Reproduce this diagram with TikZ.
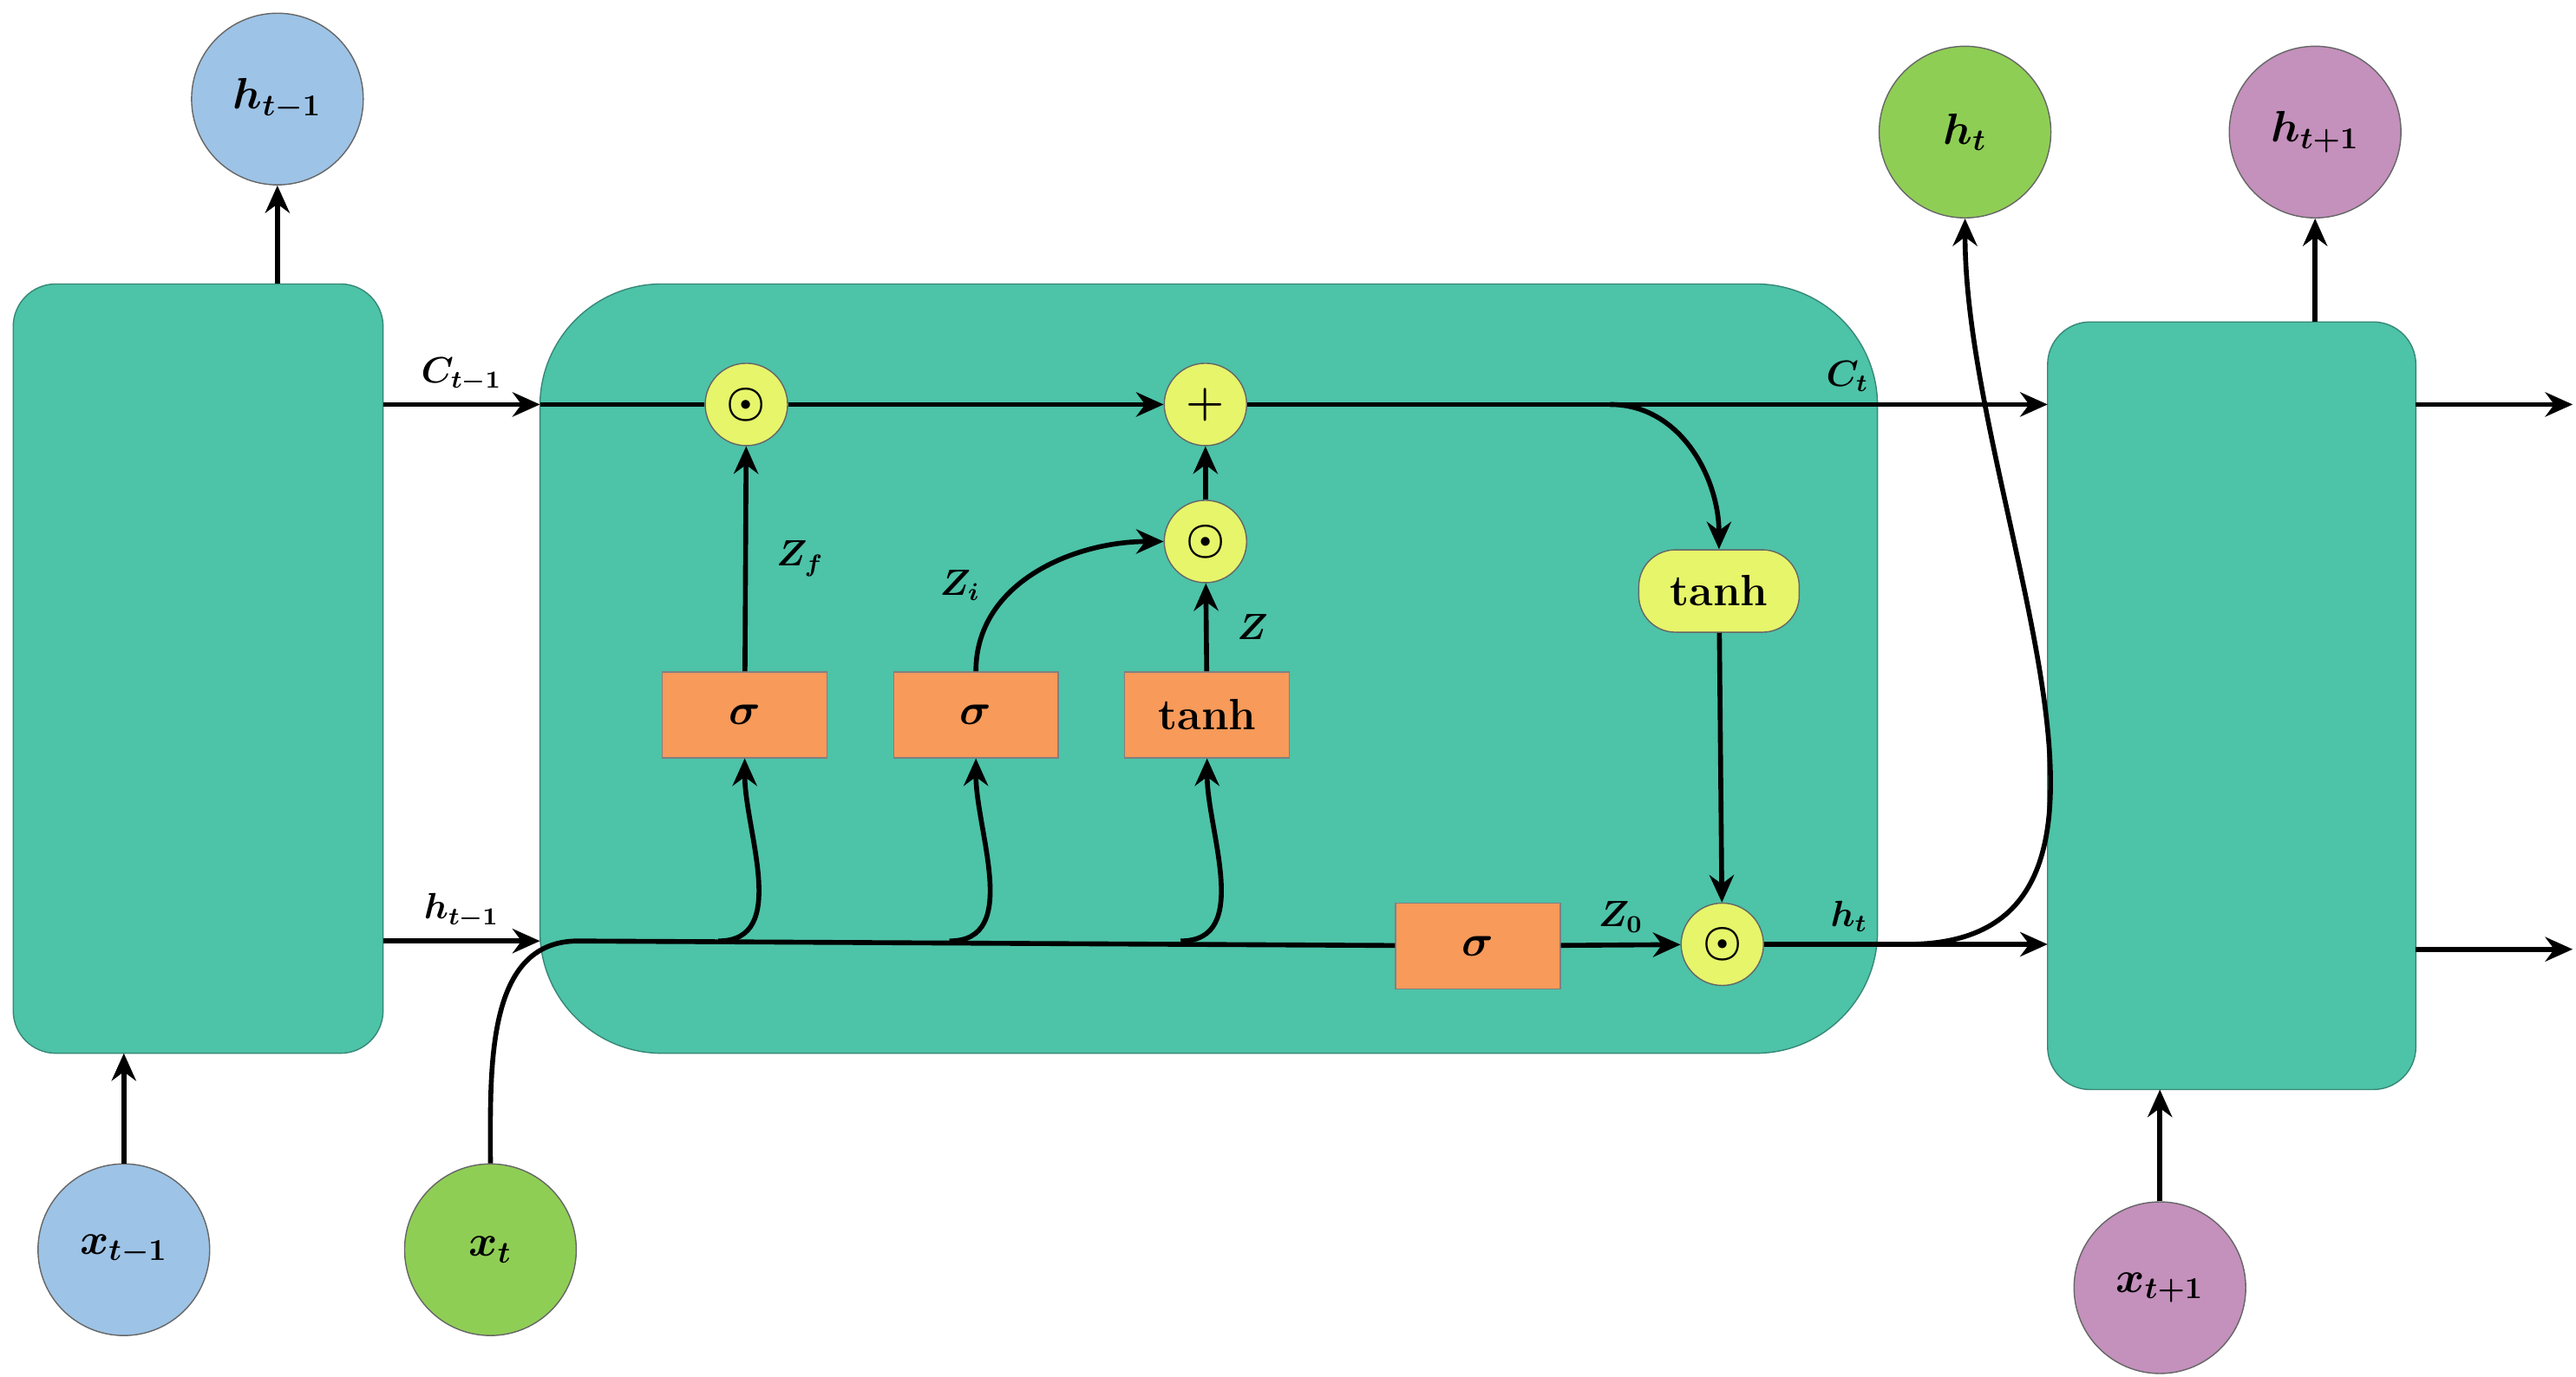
\documentclass[tikz,border=0pt]{standalone}
\usepackage{amsmath}
\usepackage{bm}
\usetikzlibrary{arrows.meta,positioning}
\definecolor{cellteal}{HTML}{4DC3A8}
\definecolor{circblue}{HTML}{9DC3E6}
\definecolor{circgreen}{HTML}{8FCE55}
\definecolor{circpurple}{HTML}{C490BC}
\definecolor{gateorange}{HTML}{F79A5A}
\definecolor{opyellow}{HTML}{E6F56A}
\begin{document}
\begin{tikzpicture}[
  x=0.01904cm, y=-0.01904cm,
  >={Stealth[length=9pt,width=8pt]},
  cell/.style={draw=cellteal!70!black, fill=cellteal, rounded corners=14pt},
  state/.style={circle, draw=black!60, minimum size=1.98cm, inner sep=0pt, font=\Large},
  gate/.style={draw=black!50, fill=gateorange, minimum width=1.9cm, minimum height=0.99cm, inner sep=0pt, font=\Large\bfseries},
  op/.style={circle, draw=black!60, fill=opyellow, minimum size=0.95cm, inner sep=0pt, font=\Large},
  flow/.style={->, line width=1.6pt},
  lbl/.style={font=\large},
]
\useasboundingbox (0,0) rectangle (1560,834);

% cells
\draw[cell] (8,172) rectangle (232,638);
\draw[cell, rounded corners=40pt] (327,172) rectangle (1137,638);
\draw[cell] (1240,195) rectangle (1463,660);
\coordinate (lefttop) at (168,172);
\coordinate (leftbot) at (75,638);
\coordinate (righttop) at (1402,195);
\coordinate (rightbot) at (1308,660);

% states
\node[state, fill=circblue] (hprev) at (168,60) {$\bm{h_{t-1}}$};
\node[state, fill=circblue] (xprev) at (75,757) {$\bm{x_{t-1}}$};
\node[state, fill=circgreen] (xcur) at (297,757) {$\bm{x_t}$};
\node[state, fill=circgreen] (hcur) at (1190,80) {$\bm{h_t}$};
\node[state, fill=circpurple] (hnext) at (1402,80) {$\bm{h_{t+1}}$};
\node[state, fill=circpurple] (xnext) at (1308,780) {$\bm{x_{t+1}}$};

% gates and operators
\node[gate] (sigf) at (451,433) {$\bm{\sigma}$};
\node[gate] (sigi) at (591,433) {$\bm{\sigma}$};
\node[gate] (tanhz) at (731,433) {tanh};
\node[gate] (sigo) at (895,573) {$\bm{\sigma}$};
\node[op] (mulf) at (452,245) {$\bm{\odot}$};
\node[op] (add) at (730,245) {$\bm{+}$};
\node[op] (muli) at (730,328) {$\bm{\odot}$};
\node[op] (mulo) at (1043,572) {$\bm{\odot}$};
\node[draw=black!60, fill=opyellow, rounded corners=12pt, minimum width=1.85cm, minimum height=0.95cm, font=\Large\bfseries] (tanhc) at (1041,358) {tanh};

% coordinates on the lines
\coordinate (cin) at (232,245);
\coordinate (cleft) at (327,245);
\coordinate (hin) at (232,570);
\coordinate (hleft) at (327,570);
\coordinate (cright) at (1240,245);
\coordinate (hright) at (1240,572);
\coordinate (csplit) at (975,245);
\coordinate (hsplit) at (1155,572);
\coordinate (xjoin) at (350,570);
\coordinate (bf) at (435,570);
\coordinate (bi) at (575,570);
\coordinate (bz) at (715,570);
\coordinate (cout) at (1558,245);
\coordinate (hout) at (1558,575);

% left cell
\draw[flow] (lefttop) -- (hprev);
\draw[flow] (xprev) -- (leftbot);
\draw[flow] (cin) -- (cleft) node[lbl, midway, above] {$\bm{C_{t-1}}$};
\draw[flow] (hin) -- (hleft) node[lbl, midway, above] {$\bm{h_{t-1}}$};

% cell state
\draw[line width=1.6pt] (cleft) -- (mulf);
\draw[flow] (mulf) -- (add);
\draw[flow] (add) -- (cright) node[lbl, pos=0.75, above] {$\bm{C_t}$};
\draw[flow] (csplit) to[out=0, in=90] (tanhc);
\draw[flow] (tanhc) -- (mulo);

% hidden / input path
\draw[line width=1.6pt] (xcur.north) to[out=90, in=180] (xjoin) -- (sigo);
\draw[flow] (bf) to[out=0, in=-90] (sigf);
\draw[flow] (bi) to[out=0, in=-90] (sigi);
\draw[flow] (bz) to[out=0, in=-90] (tanhz);

% gates
\draw[flow] (sigf) -- (mulf) node[lbl, midway, right=6pt] {$\bm{Z_f}$};
\draw[flow] (sigi) to[out=90, in=180] node[lbl, pos=0.25, above left] {$\bm{Z_i}$} (muli);
\draw[flow] (tanhz) -- (muli) node[lbl, midway, right=6pt] {$\bm{Z}$};
\draw[flow] (muli) -- (add);
\draw[flow] (sigo) -- (mulo) node[lbl, midway, above] {$\bm{Z_0}$};
\draw[flow] (mulo) -- (hright) node[lbl, pos=0.3, above] {$\bm{h_t}$};
\draw[flow] (hsplit) to[out=0, in=-90] (hcur);

% right cell
\draw[flow] (righttop) -- (hnext);
\draw[flow] (xnext) -- (rightbot);
\draw[flow] (1463,245) -- (cout);
\draw[flow] (1463,575) -- (hout);
\end{tikzpicture}
\end{document}
